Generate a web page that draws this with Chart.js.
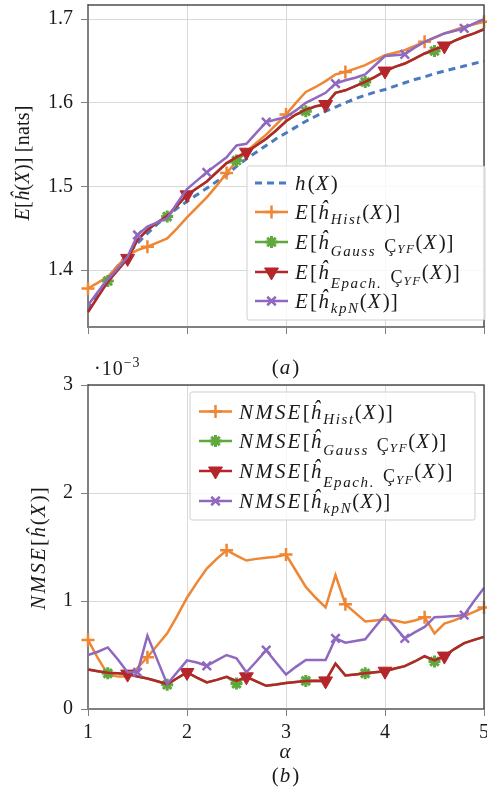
<!DOCTYPE html>
<html><head><meta charset="utf-8">
<script src="https://cdn.jsdelivr.net/npm/chart.js@4.4.1/dist/chart.umd.min.js"></script>
<style>
html,body{margin:0;padding:0;background:#fff;}
#wrap{position:relative;width:487px;height:792px;overflow:hidden;background:#fff;}
canvas{position:absolute;left:0;}
</style></head><body>
<div id="wrap">
<canvas id="cTop" width="487" height="380" style="top:0;width:487px;height:380px"></canvas>
<canvas id="cBot" width="487" height="442" style="top:350px;width:487px;height:442px"></canvas>
</div>
<script>
// ---------- data ----------
const alpha = [1.0,1.1,1.2,1.3,1.4,1.5,1.6,1.7,1.8,1.9,2.0,2.1,2.2,2.3,2.4,2.5,2.6,2.7,2.8,2.9,3.0,3.1,3.2,3.3,3.4,3.5,3.6,3.7,3.8,3.9,4.0,4.1,4.2,4.3,4.4,4.5,4.6,4.7,4.8,4.9,5.0];
const xTicks = [1,2,3,4,5];
const topTicks = [1.4,1.5,1.6,1.7];
const botTicks = [0,1,2,3];

// (a) mean entropy estimates [nats]
const hTrue    = [1.352,1.372,1.390,1.405,1.419,1.432,1.444,1.455,1.465,1.474,1.482,1.490,1.498,1.506,1.514,1.524,1.533,1.541,1.549,1.557,1.564,1.571,1.578,1.584,1.590,1.595,1.600,1.605,1.609,1.613,1.616,1.620,1.624,1.628,1.631,1.635,1.638,1.641,1.644,1.647,1.650];
const histMean = [1.378,1.385,1.392,1.405,1.418,1.424,1.428,1.433,1.438,1.450,1.463,1.475,1.487,1.501,1.516,1.530,1.542,1.552,1.562,1.574,1.586,1.600,1.613,1.619,1.626,1.634,1.637,1.641,1.645,1.651,1.657,1.660,1.663,1.668,1.673,1.678,1.683,1.687,1.691,1.694,1.697];
const gaussMean= [1.350,1.368,1.387,1.400,1.414,1.436,1.448,1.457,1.464,1.477,1.490,1.498,1.506,1.517,1.528,1.531,1.541,1.549,1.557,1.567,1.578,1.586,1.590,1.596,1.598,1.612,1.615,1.620,1.625,1.631,1.638,1.643,1.647,1.653,1.659,1.662,1.668,1.674,1.679,1.683,1.688];
const epachMean= [1.350,1.368,1.386,1.400,1.414,1.436,1.448,1.457,1.465,1.477,1.490,1.498,1.506,1.517,1.528,1.535,1.541,1.549,1.557,1.567,1.578,1.586,1.592,1.596,1.598,1.612,1.615,1.620,1.625,1.631,1.638,1.643,1.647,1.653,1.659,1.664,1.668,1.674,1.679,1.683,1.688];
const kpnMean  = [1.358,1.374,1.389,1.402,1.416,1.442,1.452,1.457,1.462,1.480,1.497,1.507,1.517,1.526,1.535,1.549,1.551,1.564,1.577,1.580,1.583,1.591,1.600,1.606,1.612,1.623,1.627,1.630,1.634,1.645,1.656,1.657,1.658,1.666,1.673,1.678,1.683,1.686,1.689,1.695,1.700];

// (b) NMSE in units of 1e-3
const histNmse = [0.64,0.47,0.32,0.30,0.30,0.38,0.48,0.59,0.70,0.86,1.03,1.17,1.30,1.39,1.47,1.42,1.375,1.39,1.40,1.41,1.43,1.28,1.13,1.03,0.94,1.24,0.97,0.89,0.81,0.82,0.83,0.82,0.80,0.82,0.85,0.70,0.79,0.82,0.86,0.90,0.94];
const gaussNmse= [0.365,0.35,0.33,0.33,0.323,0.30,0.283,0.257,0.225,0.285,0.338,0.29,0.246,0.27,0.298,0.235,0.298,0.256,0.215,0.226,0.24,0.25,0.26,0.262,0.26,0.42,0.31,0.32,0.33,0.34,0.35,0.375,0.397,0.44,0.489,0.44,0.49,0.555,0.61,0.64,0.668];
const epachNmse= [0.365,0.35,0.335,0.33,0.323,0.30,0.283,0.257,0.231,0.285,0.338,0.29,0.246,0.27,0.298,0.26,0.298,0.256,0.215,0.226,0.24,0.25,0.26,0.262,0.26,0.42,0.31,0.32,0.33,0.34,0.35,0.375,0.397,0.44,0.489,0.45,0.49,0.555,0.61,0.64,0.668];
const kpnNmse  = [0.50,0.53,0.57,0.46,0.34,0.34,0.68,0.455,0.23,0.34,0.45,0.43,0.40,0.45,0.50,0.47,0.34,0.44,0.545,0.43,0.32,0.39,0.454,0.454,0.454,0.654,0.614,0.63,0.645,0.76,0.87,0.76,0.654,0.71,0.76,0.85,0.855,0.86,0.87,1.0,1.12];

// indices of alpha carrying a marker
const histMarks  = [0,6,14,20,26,34,40];
const gaussMarks = [2,8,15,22,28,35];
const epachMarks = [4,10,16,24,30,36];
const kpnMarks   = [5,12,18,25,32,38];

// ---------- style ----------
const FONT = '"Liberation Serif", "Times New Roman", serif';
const C = {blue:'#4a7bbf', orange:'#ee8633', green:'#5ea83c', red:'#b5262b', purple:'#8f68bf'};
const GRID = '#d9d9d9', AXIS = '#808080', FRAME = '#4d4d4d';

function mkDs(data, color, style, marks, r, bw, extra){
  return Object.assign({
    data: alpha.map((a,i)=>({x:a, y:data[i]})),
    borderColor: color, backgroundColor: color,
    pointBackgroundColor: color, pointBorderColor: color,
    borderWidth: 2.5, tension: 0, fill: false, clip: false,
    pointStyle: style,
    pointRadius: ctx => marks.includes(ctx.dataIndex) ? r : 0,
    pointHoverRadius: 0, pointHitRadius: 0, pointBorderWidth: bw
  }, extra||{});
}

function marker(ctx, style, x, y, r, color, bw){
  ctx.save();
  ctx.strokeStyle = color; ctx.fillStyle = color; ctx.lineWidth = bw;
  ctx.beginPath();
  if (style==='cross' || style==='star'){
    ctx.moveTo(x-r,y); ctx.lineTo(x+r,y); ctx.moveTo(x,y-r); ctx.lineTo(x,y+r);
  }
  if (style==='crossRot' || style==='star'){
    const d = r*Math.SQRT1_2;
    ctx.moveTo(x-d,y-d); ctx.lineTo(x+d,y+d); ctx.moveTo(x-d,y+d); ctx.lineTo(x+d,y-d);
  }
  if (style==='triDown'){
    const s = r*Math.sin(Math.PI/3);
    ctx.moveTo(x, y+r); ctx.lineTo(x-s, y-r/2); ctx.lineTo(x+s, y-r/2); ctx.closePath(); ctx.fill();
  }
  ctx.stroke();
  ctx.restore();
}

// math text: [text, italic, sizePx, dy, extraGapBefore]
function drawMath(ctx, parts, x, y, align, lsScale){
  const k = lsScale===undefined ? 1 : lsScale;
  const items = parts.map(p=>{
    const [t,it,sz,dy,gap] = [p[0], p[1], p[2]||21, p[3]||0, p[4]||0];
    const font = (it?'italic ':'') + sz + 'px ' + FONT;
    ctx.font = font;
    const ls = k * (it ? (sz>=18 ? 2.2 : 1.6) : 1.0);
    const w = ctx.measureText(t).width + ls*t.length;
    return {t,font,w,dy,gap,ls};
  });
  const total = items.reduce((s,i)=>s+i.w+i.gap,0);
  let cx = align==='center' ? x-total/2 : (align==='right' ? x-total : x);
  ctx.textAlign='left'; ctx.textBaseline='alphabetic';
  for (const i of items){
    cx += i.gap;
    ctx.font = i.font;
    let px = cx;
    for (const ch of i.t){ ctx.fillText(ch, px, y+i.dy); px += ctx.measureText(ch).width + i.ls; }
    cx += i.w;
  }
  return total;
}

function estLabel(prefix, which){
  const tail = [['(',0],['X',1],[')]',0]];
  let mid;
  if (which==='hist')  mid=[['ĥ',1],['Hist',1,15,5]];
  if (which==='gauss') mid=[['ĥ',1],['Gauss',1,15,7],['Ç',0,18,3,8],['YF',1,13,4]];
  if (which==='epach') mid=[['ĥ',1],['Epach.',1,15,9],['Ç',0,18,4,8],['YF',1,13,6]];
  if (which==='kpn')   mid=[['ĥ',1],['kpN',1,15,5]];
  return prefix.concat([['[',0]], mid, tail);
}
const E_ = [['E',1]], NMSE_ = [['NMSE',1]];

const topLegend = [
  {parts:[['h',1],['(',0],['X',1],[')',0]], color:C.blue, dash:true},
  {parts:estLabel(E_,'hist'),  color:C.orange, style:'cross',    r:6.5, bw:2.5},
  {parts:estLabel(E_,'gauss'), color:C.green,  style:'star',     r:6,   bw:3},
  {parts:estLabel(E_,'epach'), color:C.red,    style:'triDown',  r:8,   bw:1},
  {parts:estLabel(E_,'kpn'),   color:C.purple, style:'crossRot', r:6,   bw:2.5}
];
const botLegend = [
  {parts:estLabel(NMSE_,'hist'),  color:C.orange, style:'cross',    r:6.5, bw:2.5},
  {parts:estLabel(NMSE_,'gauss'), color:C.green,  style:'star',     r:6,   bw:3},
  {parts:estLabel(NMSE_,'epach'), color:C.red,    style:'triDown',  r:8,   bw:1},
  {parts:estLabel(NMSE_,'kpn'),   color:C.purple, style:'crossRot', r:6,   bw:2.5}
];

function drawLegend(ctx, box, rows, lineX0, lineX1, textX, rowY){
  ctx.save();
  ctx.beginPath();
  ctx.roundRect(box[0], box[1], box[2]-box[0], box[3]-box[1], 2);
  ctx.fillStyle = 'rgba(255,255,255,0.82)'; ctx.fill();
  ctx.strokeStyle = '#cfcfcf'; ctx.lineWidth = 1; ctx.stroke();
  rows.forEach((row,k)=>{
    const y = rowY[k];
    ctx.save();
    ctx.strokeStyle = row.color; ctx.lineWidth = row.dash?3:2.5;
    if (row.dash) ctx.setLineDash([7,5]);
    ctx.beginPath(); ctx.moveTo(lineX0,y); ctx.lineTo(lineX1,y); ctx.stroke();
    ctx.restore();
    if (row.style) marker(ctx, row.style, (lineX0+lineX1)/2, y, row.r, row.color, row.bw);
    ctx.fillStyle = '#1a1a1a';
    drawMath(ctx, row.parts, textX, y+7, 'left');
  });
  ctx.restore();
}

function drawFrame(ctx, a){
  ctx.save();
  ctx.strokeStyle = FRAME; ctx.lineWidth = 1.5;
  ctx.beginPath();
  ctx.moveTo(a.left, a.top); ctx.lineTo(a.right, a.top); ctx.lineTo(a.right, a.bottom);
  ctx.stroke();
  ctx.restore();
}

const topDeco = {
  id:'topDeco',
  afterDraw(chart){
    const ctx = chart.ctx, a = chart.chartArea;
    drawFrame(ctx, a);
    drawLegend(ctx, [247,166,485,320], topLegend, 255, 288, 295, [183,212,242,272,301]);
    ctx.save(); ctx.fillStyle='#1a1a1a';
    ctx.translate(22,163); ctx.rotate(-Math.PI/2);
    drawMath(ctx, [['E',1,20],['[',0,20],['ĥ',1,20],['(',0,20],['X',1,20],[')]',0,20],[' [nats]',0,20]], 0, 7, 'center', 0.2);
    ctx.restore();
    ctx.save(); ctx.fillStyle='#1a1a1a';
    drawMath(ctx, [['(',0],['a',1],[')',0]], 286, 374, 'center');
    ctx.restore();
  }
};
const botDeco = {
  id:'botDeco',
  afterDraw(chart){
    const ctx = chart.ctx, a = chart.chartArea;
    drawFrame(ctx, a);
    drawLegend(ctx, [190,42,475,170], botLegend, 199, 232, 239, [61.5,91,121,151]);
    ctx.save(); ctx.fillStyle='#1a1a1a';
    ctx.translate(38,198); ctx.rotate(-Math.PI/2);
    drawMath(ctx, [['NMSE',1],['[',0],['ĥ',1],['(',0],['X',1],[')]',0]], 0, 7, 'center');
    ctx.restore();
    ctx.save(); ctx.fillStyle='#1a1a1a';
    drawMath(ctx, [['·10',0,20],['−3',0,14,-8]], 94, 25, 'left');
    drawMath(ctx, [['α',1]], 286, 408, 'center');
    drawMath(ctx, [['(',0],['b',1],[')',0]], 286, 432, 'center');
    ctx.restore();
  }
};

function xScale(h, showLabels){
  return {
    type:'linear', min:1, max:5,
    afterBuildTicks: s => { s.ticks = xTicks.map(v=>({value:v})); },
    afterFit: s => { s.height = h; s.paddingLeft = 0; s.paddingRight = 0; },
    ticks:{display:showLabels, color:'#1a1a1a', font:{family:FONT, size:20}, padding:5, maxRotation:0,
      callback: v => String(v)},
    grid:{color:GRID, lineWidth:1, tickColor:AXIS, tickLength:7, drawTicks:true},
    border:{color:AXIS, width:2}
  };
}
function yScale(min, max, ticks, fmt){
  return {
    type:'linear', min, max,
    afterBuildTicks: s => { s.ticks = ticks.map(v=>({value:v})); },
    afterFit: s => { s.width = 88; s.paddingTop = 0; s.paddingBottom = 0; },
    ticks:{color:'#1a1a1a', font:{family:FONT, size:20}, padding:8, callback: fmt},
    grid:{color:GRID, lineWidth:1, tickColor:AXIS, tickLength:7},
    border:{color:AXIS, width:2}
  };
}
const common = {
  responsive:false, animation:false, devicePixelRatio:1,
  plugins:{legend:{display:false}, tooltip:{enabled:false}},
  events:[]
};

new Chart(document.getElementById('cTop'), {
  type:'line',
  data:{datasets:[
    mkDs(hTrue, C.blue, 'circle', [], 0, 0, {borderDash:[7,5], borderWidth:3, order:5}),
    mkDs(histMean, C.orange, 'cross', histMarks, 6.5, 2.5, {order:4}),
    mkDs(gaussMean, C.green, 'star', gaussMarks, 6, 3, {order:3}),
    mkDs(epachMean, C.red, 'triangle', epachMarks, 8, 1, {order:2, pointRotation:180}),
    mkDs(kpnMean, C.purple, 'crossRot', kpnMarks, 6, 2.5, {order:1})
  ]},
  options: Object.assign({}, common, {
    layout:{autoPadding:false, padding:{left:0, right:3, top:5, bottom:0}},
    scales:{ x:xScale(53,false), y:yScale(1.332,1.717,topTicks, v=>v.toFixed(1)) }
  }),
  plugins:[topDeco]
});

new Chart(document.getElementById('cBot'), {
  type:'line',
  data:{datasets:[
    mkDs(histNmse, C.orange, 'cross', histMarks, 6.5, 2.5, {order:4}),
    mkDs(gaussNmse, C.green, 'star', gaussMarks, 6, 3, {order:3}),
    mkDs(epachNmse, C.red, 'triangle', epachMarks, 8, 1, {order:2, pointRotation:180}),
    mkDs(kpnNmse, C.purple, 'crossRot', kpnMarks, 6, 2.5, {order:1})
  ]},
  options: Object.assign({}, common, {
    layout:{autoPadding:false, padding:{left:0, right:3, top:35, bottom:0}},
    scales:{ x:xScale(83,true), y:yScale(0,3,botTicks, v=>String(v)) }
  }),
  plugins:[botDeco]
});
</script>
</body></html>
